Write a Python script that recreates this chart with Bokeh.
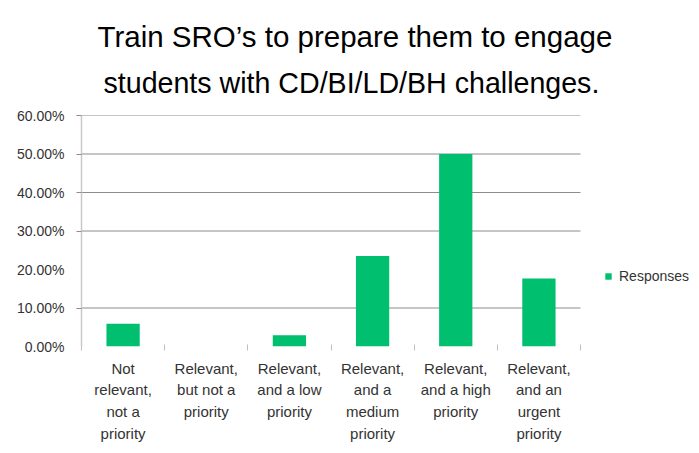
from bokeh.plotting import figure
from bokeh.models import (FixedTicker, NumeralTickFormatter, Range1d, Title,
                          Legend, LegendItem, ColumnDataSource)
from bokeh.embed import file_html
from bokeh.resources import INLINE

# ---- data ----
categories = ["Not\nrelevant,\nnot a\npriority",
              "Relevant,\nbut not a\npriority",
              "Relevant,\nand a low\npriority",
              "Relevant,\nand a\nmedium\npriority",
              "Relevant,\nand a high\npriority",
              "Relevant,\nand an\nurgent\npriority"]
responses = [0.0588, 0.0, 0.0294, 0.2353, 0.50, 0.1765]
y_ticks = [0.0, 0.1, 0.2, 0.3, 0.4, 0.5, 0.6]
grid_ticks = [0.1, 0.3, 0.4, 0.5, 0.6]
title_line1 = "Train SRO\u2019s to prepare them to engage"
title_line2 = "students with CD/BI/LD/BH challenges."
series_name = "Responses"

n = len(categories)
xs = [i + 0.5 for i in range(n)]
bounds = list(range(n + 1))

FONT = "Liberation Sans"
TXT = "#333333"

# plot area spans 81..580 px for the categories; the frame is extended to the
# right edge so that the legend (drawn inside the frame) is not clipped
x_end = n * (691 - 81) / (580 - 81)

p = figure(width=691, height=445, output_backend="svg", toolbar_location=None,
           x_range=Range1d(0, x_end), y_range=Range1d(0, 0.6),
           min_border_left=81, min_border_right=0, min_border_top=115,
           min_border_bottom=97)
p.outline_line_color = None
p.background_fill_color = "white"
p.border_fill_color = "white"

# horizontal gridlines limited to the category area
p.segment(x0=[0] * len(grid_ticks), x1=[n] * len(grid_ticks),
          y0=grid_ticks, y1=grid_ticks, line_color="#8c8c8c", line_width=1)

src = ColumnDataSource(dict(x=xs, top=responses))
bars = p.vbar(x="x", top="top", bottom=0, width=0.4, source=src,
              fill_color="#00BF6F", line_color=None)

# x axis
xa = p.xaxis[0]
xa.ticker = FixedTicker(ticks=xs, minor_ticks=bounds)
xa.major_label_overrides = {x: c for x, c in zip(xs, categories)}
xa.axis_line_color = None
xa.major_tick_line_color = None
xa.major_tick_in = 0
xa.major_tick_out = 0
xa.minor_tick_line_color = "#bfbfbf"
xa.minor_tick_in = 2
xa.minor_tick_out = 4
xa.major_label_standoff = 9
xa.major_label_text_font = FONT
xa.major_label_text_font_size = "15px"
xa.major_label_text_color = TXT
xa.major_label_text_line_height = 1.29

# y axis
ya = p.yaxis[0]
ya.ticker = FixedTicker(ticks=y_ticks, minor_ticks=grid_ticks)
ya.formatter = NumeralTickFormatter(format="0.00%")
ya.axis_line_color = "#c8c8c8"
ya.axis_line_width = 1.5
ya.major_tick_line_color = None
ya.major_tick_in = 0
ya.major_tick_out = 0
ya.minor_tick_line_color = "#8c8c8c"
ya.minor_tick_in = 0
ya.minor_tick_out = 5
ya.major_label_standoff = 12
ya.major_label_text_font = FONT
ya.major_label_text_font_size = "14px"
ya.major_label_text_color = TXT

p.xgrid.grid_line_color = None
p.ygrid.grid_line_color = None

# title (two lines, nearest-to-frame added first)
t2 = Title(text=title_line2, align="left", offset=22, standoff=34,
           text_font=FONT, text_font_size="28.6px", text_font_style="normal",
           text_color="black")
t1 = Title(text=title_line1, align="left", offset=16, standoff=-10,
           text_font=FONT, text_font_size="29.5px", text_font_style="normal",
           text_color="black")
p.add_layout(t2, "above")
p.add_layout(t1, "above")

# legend
legend = Legend(items=[LegendItem(label=series_name, renderers=[bars])],
                location=(523, 62), glyph_width=8, glyph_height=8,
                label_text_font=FONT, label_text_font_size="14px",
                label_text_color=TXT, border_line_color=None,
                background_fill_alpha=0, padding=0, margin=0, label_standoff=7)
p.add_layout(legend, "center")

open("out.html", "w").write(file_html(p, INLINE))
